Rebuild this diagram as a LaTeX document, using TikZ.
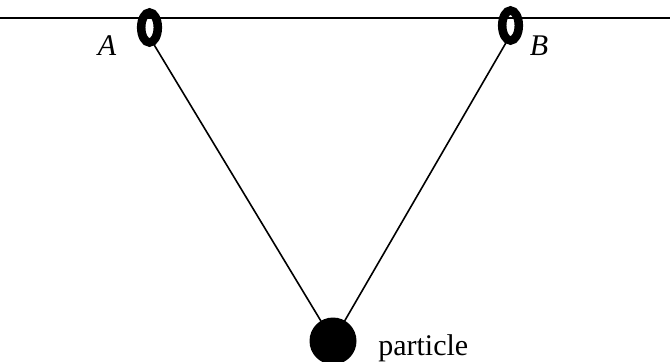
\documentclass[tikz,border=0pt]{standalone}
\usepackage{fontspec}
\setmainfont{Liberation Serif}
\begin{document}
\begin{tikzpicture}[x=0.75pt,y=-0.75pt,
  thin line/.style={line width=1.2pt,black},
  ring/.style={draw=black,line width=6.4pt},
  lbl/.style={font=\fontsize{22.5}{24}\selectfont,inner sep=0pt,anchor=base}]
\useasboundingbox (0,0) rectangle (670,361);
\coordinate (L) at (0,18);
\coordinate (R) at (670,18);
\coordinate (A) at (149.5,27.5);
\coordinate (B) at (510.5,25.5);
\coordinate (Abot) at (153,43);
\coordinate (Bbot) at (507,41);
\coordinate (P) at (333,341);
\draw[thin line] (L) -- (R);
\draw[thin line] (Abot) -- (P);
\draw[thin line] (Bbot) -- (P);
\draw[ring] (A) ellipse [x radius=8.3, y radius=15];
\draw[ring] (B) ellipse [x radius=8.3, y radius=15];
\fill[black] (P) circle [radius=23.5];
\node[lbl] (la) at (107,55) {\textit{A}};
\node[lbl] (lb) at (539,55) {\textit{B}};
\node[lbl,anchor=base west] (lp) at (378,355) {particle};
\end{tikzpicture}
\end{document}
